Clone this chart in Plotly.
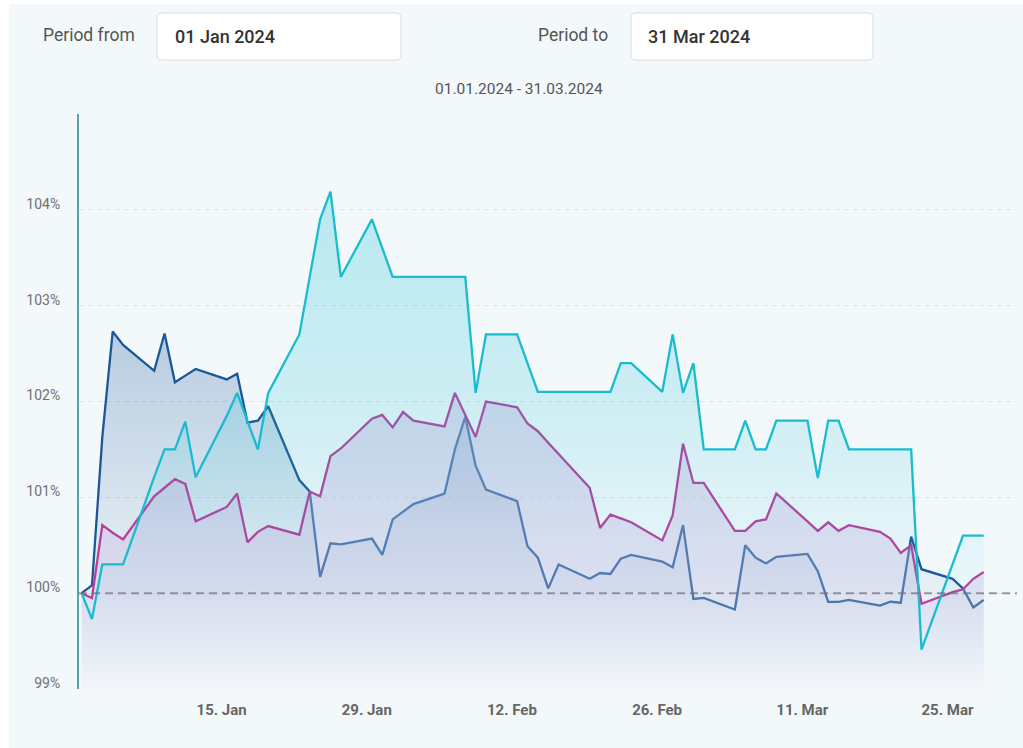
import plotly.graph_objects as go
import pandas as pd

# ---------------- data ----------------
dates = ["2024-01-01", "2024-01-02", "2024-01-03", "2024-01-04", "2024-01-05",
         "2024-01-08", "2024-01-09", "2024-01-10", "2024-01-11", "2024-01-12",
         "2024-01-15", "2024-01-16", "2024-01-17", "2024-01-18", "2024-01-19",
         "2024-01-22", "2024-01-23", "2024-01-24", "2024-01-25", "2024-01-26",
         "2024-01-29", "2024-01-30", "2024-01-31", "2024-02-01", "2024-02-02",
         "2024-02-05", "2024-02-06", "2024-02-07", "2024-02-08", "2024-02-09",
         "2024-02-12", "2024-02-13", "2024-02-14", "2024-02-15", "2024-02-16",
         "2024-02-19", "2024-02-20", "2024-02-21", "2024-02-22", "2024-02-23",
         "2024-02-26", "2024-02-27", "2024-02-28", "2024-02-29", "2024-03-01",
         "2024-03-04", "2024-03-05", "2024-03-06", "2024-03-07", "2024-03-08",
         "2024-03-11", "2024-03-12", "2024-03-13", "2024-03-14", "2024-03-15",
         "2024-03-18", "2024-03-19", "2024-03-20", "2024-03-21", "2024-03-22",
         "2024-03-25", "2024-03-26", "2024-03-27", "2024-03-28"]

cyan_values = [100.00, 99.73, 100.30, 100.30, 100.30,
               101.21, 101.50, 101.50, 101.79, 101.21,
               101.85, 102.09, 101.80, 101.50, 102.09,
               102.70, 103.30, 103.90, 104.19, 103.30,
               103.90, 103.60, 103.30, 103.30, 103.30,
               103.30, 103.30, 103.30, 102.09, 102.70,
               102.70, 102.40, 102.10, 102.10, 102.10,
               102.10, 102.10, 102.10, 102.40, 102.40,
               102.10, 102.70, 102.09, 102.40, 101.50,
               101.50, 101.80, 101.50, 101.50, 101.80,
               101.80, 101.20, 101.80, 101.80, 101.50,
               101.50, 101.50, 101.50, 101.50, 99.41,
               100.30, 100.60, 100.60, 100.60]

blue_values = [100.00, 100.08, 101.63, 102.73, 102.59,
               102.32, 102.71, 102.20, 102.27, 102.34,
               102.23, 102.29, 101.78, 101.80, 101.95,
               101.18, 101.06, 100.17, 100.52, 100.51,
               100.57, 100.40, 100.77, 100.85, 100.93,
               101.04, 101.50, 101.84, 101.33, 101.08,
               100.96, 100.49, 100.37, 100.05, 100.30,
               100.15, 100.21, 100.20, 100.36, 100.40,
               100.33, 100.27, 100.71, 99.94, 99.95,
               99.83, 100.50, 100.37, 100.31, 100.38,
               100.41, 100.23, 99.91, 99.91, 99.93,
               99.87, 99.91, 99.90, 100.59, 100.25,
               100.15, 100.05, 99.85, 99.93]

purple_values = [100.00, 99.95, 100.71, 100.63, 100.56,
                 101.01, 101.10, 101.19, 101.14, 100.75,
                 100.90, 101.04, 100.53, 100.64, 100.70,
                 100.61, 101.06, 101.01, 101.43, 101.51,
                 101.82, 101.86, 101.73, 101.89, 101.80,
                 101.74, 102.09, 101.86, 101.63, 102.00,
                 101.94, 101.77, 101.69, 101.57, 101.45,
                 101.10, 100.68, 100.82, 100.78, 100.74,
                 100.55, 100.81, 101.56, 101.15, 101.15,
                 100.65, 100.65, 100.75, 100.77, 101.04,
                 100.75, 100.65, 100.74, 100.65, 100.71,
                 100.64, 100.57, 100.42, 100.50, 99.89,
                 100.01, 100.04, 100.15, 100.22]

x_tick_dates = ["2024-01-15", "2024-01-29", "2024-02-12", "2024-02-26", "2024-03-11", "2024-03-25"]
x_tick_labels = ["15. Jan", "29. Jan", "12. Feb", "26. Feb", "11. Mar", "25. Mar"]
y_tick_values = [99, 100, 101, 102, 103, 104, 105]
y_tick_labels = ["99%", "100%", "101%", "102%", "103%", "104%", ""]
baseline_value = 100
period_from = "01 Jan 2024"
period_to = "31 Mar 2024"
subtitle = "01.01.2024 - 31.03.2024"

# ---------------- layout geometry ----------------
W, H = 1023, 748
L, R, T, B = 79, 1017, 114, 689


def xp(px):
    return (px - L) / (R - L)


def yp(py):
    return (B - py) / (B - T)


def rounded_rect(x0, y0, x1, y1, r):
    def p(x, y):
        return f"{xp(x):.5f},{yp(y):.5f}"
    return (f"M {p(x0 + r, y0)} L {p(x1 - r, y0)} Q {p(x1, y0)} {p(x1, y0 + r)} "
            f"L {p(x1, y1 - r)} Q {p(x1, y1)} {p(x1 - r, y1)} "
            f"L {p(x0 + r, y1)} Q {p(x0, y1)} {p(x0, y1 - r)} "
            f"L {p(x0, y0 + r)} Q {p(x0, y0)} {p(x0 + r, y0)} Z")


x = pd.to_datetime(dates) + pd.Timedelta(hours=12)
FONT = "Roboto"

fig = go.Figure()

series = [
    ("blue", blue_values, "#1c5797",
     [[0, "rgba(31,91,155,0.0)"], [0.3, "rgba(31,91,155,0.06)"], [1, "rgba(31,91,155,0.28)"]]),
    ("purple", purple_values, "#b6419c",
     [[0, "rgba(215,200,232,0.05)"], [0.35, "rgba(200,180,222,0.33)"], [1, "rgba(200,175,220,0.45)"]]),
    ("cyan", cyan_values, "#19bccf",
     [[0, "rgba(23,190,207,0.0)"], [0.3, "rgba(23,190,207,0.07)"],
      [0.6, "rgba(23,190,207,0.18)"], [1, "rgba(23,190,207,0.27)"]]),
]

for name, vals, col, cs in series:
    fig.add_trace(go.Scatter(
        x=x, y=vals, mode="lines", name=name,
        line=dict(color=col, width=2.3),
        fill="tozeroy",
        fillgradient=dict(type="vertical", colorscale=cs,
                          start=min(y_tick_values), stop=max(vals)),
        hoverinfo="skip",
    ))

shapes = [
    # page panel
    dict(type="rect", xref="paper", yref="paper", layer="below",
         x0=xp(9), x1=xp(1023), y0=yp(748), y1=yp(4),
         fillcolor="#f3f8fb", line=dict(width=0)),
    # input boxes
    dict(type="path", xref="paper", yref="paper", layer="above",
         path=rounded_rect(157, 13, 401, 60, 5),
         fillcolor="#ffffff", line=dict(color="#d8dde3", width=1)),
    dict(type="path", xref="paper", yref="paper", layer="above",
         path=rounded_rect(631, 13, 873, 60, 5),
         fillcolor="#ffffff", line=dict(color="#d8dde3", width=1)),
    # 100% reference line
    dict(type="line", xref="paper", yref="y", layer="above",
         x0=0, x1=1, y0=baseline_value, y1=baseline_value,
         line=dict(color="rgba(110,112,125,0.7)", width=2, dash="8px,5px")),
]

annotations = [
    dict(text="Period from", x=xp(41), y=yp(35), xanchor="left", yanchor="middle",
         font=dict(family=FONT, size=17.5, color="#555555")),
    dict(text=period_from, x=xp(173), y=yp(37), xanchor="left", yanchor="middle",
         font=dict(family=FONT, size=18, color="#333333", weight=500)),
    dict(text="Period to", x=xp(536), y=yp(35), xanchor="left", yanchor="middle",
         font=dict(family=FONT, size=17.5, color="#555555")),
    dict(text=period_to, x=xp(646), y=yp(37), xanchor="left", yanchor="middle",
         font=dict(family=FONT, size=18, color="#333333", weight=500)),
    dict(text=subtitle, x=xp(519), y=yp(89), xanchor="center", yanchor="middle",
         font=dict(family=FONT, size=15.5, color="#555555")),
]
for a in annotations:
    a.update(xref="paper", yref="paper", showarrow=False)

fig.update_layout(
    width=W, height=H,
    margin=dict(l=L, r=W - R, t=T, b=H - B, pad=0),
    paper_bgcolor="#ffffff",
    plot_bgcolor="rgba(0,0,0,0)",
    showlegend=False,
    shapes=shapes,
    annotations=annotations,
    font=dict(family=FONT),
    xaxis=dict(
        type="date",
        range=["2024-01-01 06:00", "2024-03-31 17:00"],
        tickmode="array", tickvals=x_tick_dates, ticktext=x_tick_labels,
        showgrid=False, zeroline=False, showline=False, ticks="",
        tickfont=dict(family=FONT, size=15, color="#666666", weight="bold"),
        ticklabelstandoff=10,
    ),
    yaxis=dict(
        range=[99, 105],
        tickmode="array", tickvals=y_tick_values, ticktext=y_tick_labels,
        showgrid=True, gridcolor="#dde2e7", griddash="5px,4px", gridwidth=1,
        zeroline=False, showline=True, linecolor="#5aa3a6", linewidth=2,
        ticks="", tickfont=dict(family=FONT, size=14, color="#707070"),
        ticklabelstandoff=14, ticklabelshift=-6,
    ),
)

fig.write_html("out.html", config={"displayModeBar": False},
               post_script="document.body.style.margin='0';document.body.style.overflow='hidden';")
